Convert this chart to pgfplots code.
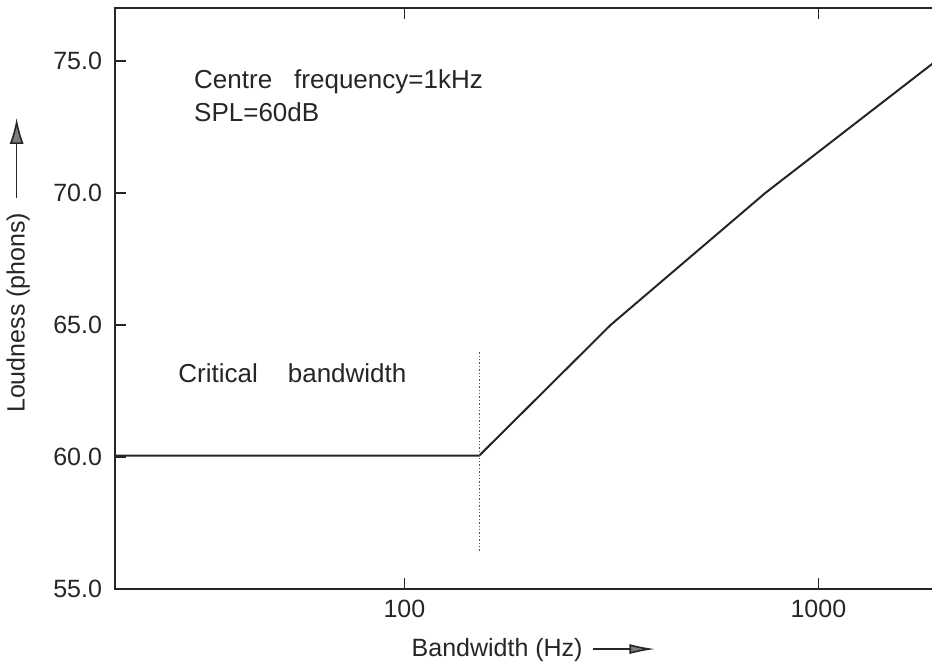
\documentclass[border=0pt]{standalone}
\usepackage{pgfplots}
\pgfplotsset{compat=1.18}
\usepackage{fontspec}
\setmainfont{Liberation Sans}
\usetikzlibrary{arrows.meta}
\definecolor{ink}{gray}{0.15}
\newcommand{\cf}{\fontsize{12.5}{15}\selectfont}
\newcommand{\af}{\fontsize{13}{15.5}\selectfont}
\begin{document}
\begin{tikzpicture}
\begin{axis}[
  scale only axis, width=414pt, height=290.5pt,
  xmode=log, xmin=20, xmax=2000, ymin=55, ymax=77,
  xtick={100,1000}, xticklabels={100,1000}, xminorticks=false,
  ytick={55,60,65,70,75}, yticklabels={55.0,60.0,65.0,70.0,75.0},
  /pgf/number format/assume math mode=true,
  tick align=inside, major tick length=5.5pt,
  axis line style={line width=1pt, ink},
  every tick/.style={ink, line width=0.8pt},
  tick label style={font=\cf, text=ink},
  yticklabel style={xshift=-3pt},
  xticklabel style={yshift=-2pt},
  label style={font=\cf, text=ink},
  xlabel={Bandwidth (Hz)\hspace{5pt}\tikz[baseline=-0.6ex]\draw[ink, line width=0.8pt, -{Latex[length=13pt,width=5pt,fill=ink!60]}] (0,0)--(31pt,0);},
  xlabel style={at={(axis description cs:0.506,-0.117)}, anchor=base},
  ylabel={Loudness (phons)\hspace{7pt}\tikz[baseline=-0.6ex]\draw[ink, line width=0.8pt, -{Latex[length=13pt,width=7pt,fill=ink!60]}] (0,0)--(40pt,0);},
  ylabel style={at={(axis description cs:-0.117,0.5577)}, anchor=center},
]
\addplot[ink, line width=1pt] coordinates {(20,60.05) (151.6,60.05) (315,65) (745,70) (2000,75.2)};
\addplot[ink!80, densely dotted, line width=0.7pt] coordinates {(151.6,56.45) (151.6,64.0)};
\node[anchor=base west, inner sep=0, font=\af, text=ink] at (axis cs:31.0,73.94) {Centre\hspace{11pt}frequency=1kHz};
\node[anchor=base west, inner sep=0, font=\af, text=ink] at (axis cs:31.0,72.69) {SPL=60dB};
\node[anchor=base west, inner sep=0, font=\af, text=ink] at (axis cs:28.4,62.83) {Critical\hspace{15pt}bandwidth};
\end{axis}
\pgfresetboundingbox
\path ([shift={(-57.5pt,-38pt)}]current axis.south west) rectangle ([shift={(408.5pt,4pt)}]current axis.north west);
\end{tikzpicture}
\end{document}
